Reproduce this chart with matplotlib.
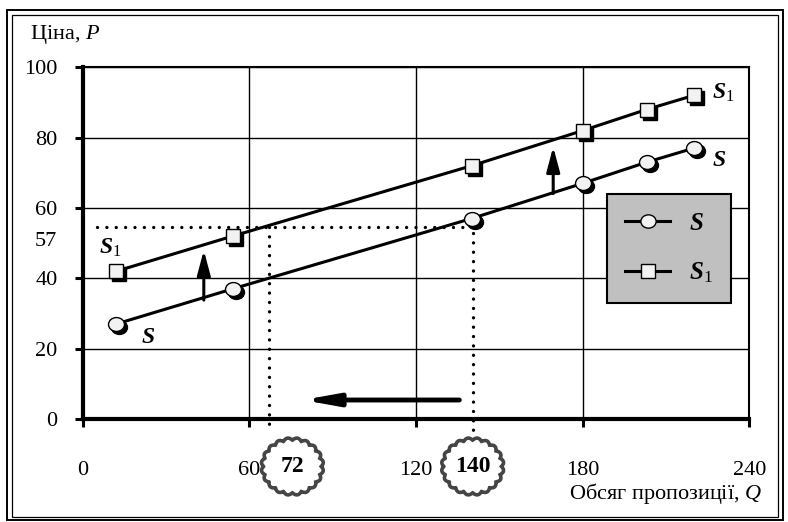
import numpy as np
import matplotlib
matplotlib.use('Agg')
import matplotlib.pyplot as plt
from matplotlib.patches import Rectangle, Polygon
from matplotlib.lines import Line2D
from matplotlib.path import Path
from matplotlib.markers import MarkerStyle
from matplotlib.font_manager import FontProperties
import matplotlib.transforms as mtransforms

# ---------------- data ----------------
q_supply = [12, 54, 140, 180, 203, 220]
p_s = [27, 37, 57, 67, 73, 77]
p_s1 = [42, 52, 72, 82, 88, 92]
x_ticks = [0, 60, 120, 180, 240]
y_ticks = [0, 20, 40, 60, 80, 100]
eq_label = '57'
eq_label_y = 50.6
eq_line_y = 54.5
q_guides = [67, 140.4]
guide_tops = [54.5, 53]
badge_labels = ['72', '140']
badge_x = [75.5, 140.4]
badge_y = -13.5
shift_arrows = [((43.6, 33.8), (43.6, 48.0)), ((169.4, 64.1), (169.4, 77.4))]
q_arrow = ((135.6, 5.4), (79.2, 5.4))

plt.rcParams['font.family'] = ['Liberation Serif', 'DejaVu Serif']
plt.rcParams['mathtext.fontset'] = 'custom'
plt.rcParams['mathtext.rm'] = 'Liberation Serif'
plt.rcParams['mathtext.it'] = 'Liberation Serif:italic'
plt.rcParams['mathtext.bf'] = 'Liberation Serif:bold'
plt.rcParams['mathtext.bfit'] = 'Liberation Serif:bold:italic'

W, H = 788, 522
fig = plt.figure(figsize=(W / 100, H / 100), dpi=100)
L, R, T, B = 82.7, 749.3, 67.3, 419.0
ax = fig.add_axes([L / W, 1 - B / H, (R - L) / W, (B - T) / H])
ax.set_xlim(0, 240)
ax.set_ylim(0, 100)
px_x = (R - L) / 240
px_y = (B - T) / 100

# outer double frame
fig.add_artist(Rectangle((7 / W, 1 - 520 / H), (783 - 7) / W, (520 - 10) / H,
                         transform=fig.transFigure, fill=False, lw=1.4, ec='k'))
fig.add_artist(Rectangle((12 / W, 1 - 517 / H), (778 - 12) / W, (517 - 14.5) / H,
                         transform=fig.transFigure, fill=False, lw=0.9, ec='k'))

# axes styling
ax.set_xticks(x_ticks)
ax.set_yticks(y_ticks)
ax.set_axisbelow(True)
ax.grid(True, color='k', lw=1.0)
ax.tick_params(axis='both', direction='out', length=6, width=2.2, labelsize=16)
ax.tick_params(axis='x', pad=24)
ax.tick_params(axis='y', pad=12)
for s, w in (('left', 3), ('bottom', 3), ('top', 1.5), ('right', 1.5)):
    ax.spines[s].set_linewidth(w)

# markers
ell = MarkerStyle(Path.unit_circle().transformed(mtransforms.Affine2D().scale(1.15, 1.0)))
shadow = mtransforms.offset_copy(ax.transData, fig=fig, x=3, y=-3, units='dots')
mfc = '#f2f2f2'

for p, mk, ms in ((p_s, ell, 11.5), (p_s1, 's', 10.5)):
    ax.plot(q_supply, p, color='k', lw=2.2, zorder=3)
    ax.plot(q_supply, p, ls='none', marker=mk, ms=ms, mfc='k', mec='k', mew=1,
            transform=shadow, zorder=4)
    ax.plot(q_supply, p, ls='none', marker=mk, ms=ms, mfc=mfc, mec='k', mew=1, zorder=5)

# dotted guides
dot_kw = dict(color='k', lw=2.4, ls=(0, (0.01, 2.8)), dash_capstyle='round', zorder=2)
ax.plot([5, q_guides[1]], [eq_line_y, eq_line_y], **dot_kw)
for qg, top in zip(q_guides, guide_tops):
    ax.plot([qg, qg], [top, -3.1], clip_on=False, **dot_kw)

ax.annotate(eq_label, xy=(0, eq_label_y), xycoords=('axes fraction', 'data'),
            xytext=(-18.5, 0), textcoords='offset points', ha='right', va='center',
            fontsize=16)

# arrows
for (x0, y0), (x1, y1) in shift_arrows:
    ax.annotate('', xy=(x1, y1), xytext=(x0, y0),
                arrowprops=dict(arrowstyle='-|>,head_length=0.75,head_width=0.2',
                                lw=2.2, color='k', shrinkA=0, shrinkB=0,
                                mutation_scale=20), zorder=6)
(x0, y0), (x1, y1) = q_arrow
ax.annotate('', xy=(x1, y1), xytext=(x0, y0),
            arrowprops=dict(arrowstyle='-|>,head_length=1.0,head_width=0.18',
                            lw=3.5, color='k', shrinkA=0, shrinkB=0,
                            mutation_scale=20), zorder=6)

# curve labels
lab_kw = dict(ha='center', va='center', fontsize=17, zorder=7)
ax.text(10, 48.6, r'$\mathbfit{S}_{\mathrm{1}}$', **lab_kw)
ax.text(23.5, 23.3, r'$\mathbfit{S}$', **lab_kw)
ax.text(230.5, 92.6, r'$\mathbfit{S}_{\mathrm{1}}$', **lab_kw)
ax.text(229, 73.6, r'$\mathbfit{S}$', **lab_kw)

# badges
theta = np.linspace(0, 2 * np.pi, 800)
rx, ry, amp, nb = 30.0, 27.5, 1.2, 20
for bx, bl in zip(badge_x, badge_labels):
    rr = amp * np.abs(np.sin(nb * theta / 2)) * 2 - amp
    xs = bx + (rx + rr) * np.cos(theta) / px_x
    ys = badge_y + (ry + rr) * np.sin(theta) / px_y
    ax.add_patch(Polygon(np.column_stack([xs, ys]), closed=True, fc='white',
                         ec='#454545', lw=2.6, clip_on=False, zorder=8))
    ax.text(bx, badge_y, bl, ha='center', va='center', fontsize=17,
            fontweight='bold', zorder=9, clip_on=False)

# legend
handles = [Line2D([], [], color='k', lw=2.2, marker=ell, ms=11, mfc=mfc, mec='k'),
           Line2D([], [], color='k', lw=2.2, marker='s', ms=10, mfc=mfc, mec='k')]
leg = ax.legend(handles, [r'$\mathbfit{S}$', r'$\mathbfit{S}_{\mathrm{1}}$'],
                loc='upper left', bbox_to_anchor=(607 / W, 1 - 194 / H),
                bbox_transform=fig.transFigure, borderaxespad=0, frameon=True,
                fancybox=False, facecolor='#c0c0c0', edgecolor='k', framealpha=1,
                prop=FontProperties(family='Liberation Serif', size=18),
                handlelength=1.8, handletextpad=0.75, labelspacing=1.05,
                borderpad=0.72, numpoints=1)
leg.get_frame().set_linewidth(1.5)
leg.set_zorder(10)

# axis titles
fig.text(30 / W, 1 - 34 / H, r'Ціна, $\mathit{P}$', ha='left', va='center', fontsize=16)
fig.text(762 / W, 1 - 494 / H, r'Обсяг пропозиції, $\mathit{Q}$', ha='right',
         va='center', fontsize=16)

fig.savefig('out.png', dpi=100)
